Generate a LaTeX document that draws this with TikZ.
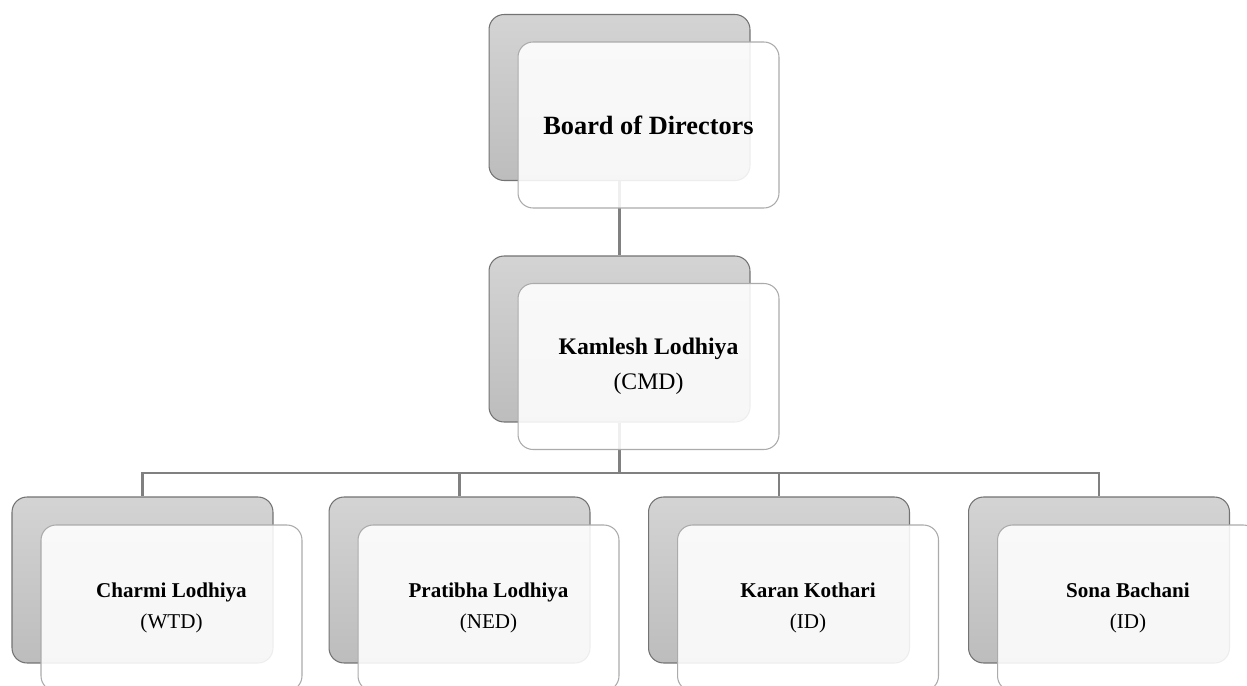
\documentclass[tikz,border=0pt]{standalone}
\usepackage{fontspec}
\setmainfont{Liberation Serif}
\tikzset{
	backbox/.style={rectangle, rounded corners=0.3cm, minimum width=5.22cm, minimum height=3.32cm, inner sep=0pt, draw=black!55, line width=0.6pt, top color=black!17, bottom color=black!26},
	frontbox/.style={rectangle, rounded corners=0.3cm, minimum width=5.22cm, minimum height=3.32cm, inner sep=0pt, draw=black!33, line width=0.6pt, fill=white, fill opacity=0.88, text opacity=1, align=center},
	link/.style={draw=black!50, line width=1.3pt}
}
\begin{document}
\begin{tikzpicture}[x=0.02cm, y=-0.02cm]
		\clip (0,0) rectangle (1247,686);
		\fill[white] (0,0) rectangle (1247,686);
		%
		\node (bod)   at (619.5,97.5)  [backbox] {};
		\node (cmd)   at (619.5,339)   [backbox] {};
		%
		\node (wtd)   at (142.5,580)  [backbox] {};
		\node (ned)   at (459.5,580)  [backbox] {};
		\node (kk)    at (779,580)    [backbox] {};
		\node (sb)    at (1099,580)   [backbox] {};
		%
		\coordinate (bus) at (619.5,473);
		\draw[link] (bod.south) -- (cmd.north);
		\draw[link] (cmd.south) -- (bus);
		\foreach \b in {wtd,ned,kk,sb}
			\draw[link] (bus) -| (\b.north);
		%
		\node (bodF)   at (648.5,125)  [frontbox, font=\bfseries\fontsize{15}{18}\selectfont] {Board of Directors};
		\node (cmdF)   at (648.5,366.5) [frontbox, font=\fontsize{13.5}{20}\selectfont] {\textbf{Kamlesh Lodhiya}\\(CMD)};
		%
		\node (wtdF)   at (171.5,608)  [frontbox, font=\fontsize{12}{18}\selectfont] {\textbf{Charmi Lodhiya}\\(WTD)};
		\node (nedF)   at (488.5,608)  [frontbox, font=\fontsize{12}{18}\selectfont] {\textbf{Pratibha Lodhiya}\\(NED)};
		\node (kkF)    at (808,608)    [frontbox, font=\fontsize{12}{18}\selectfont] {\textbf{Karan Kothari}\\(ID)};
		\node (sbF)    at (1128,608)   [frontbox, font=\fontsize{12}{18}\selectfont] {\textbf{Sona Bachani}\\(ID)};
	\end{tikzpicture}
\end{document}
